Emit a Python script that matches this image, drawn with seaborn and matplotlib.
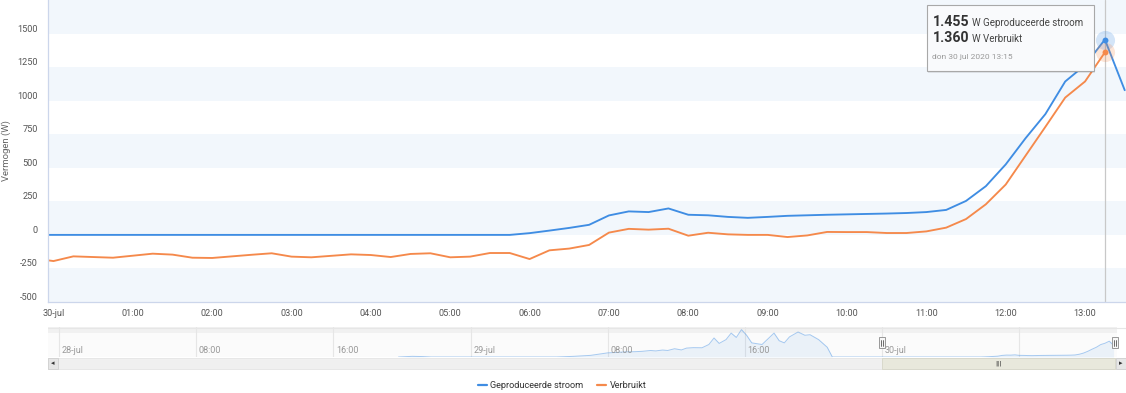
import numpy as np
import pandas as pd
import seaborn as sns
import matplotlib.pyplot as plt
from matplotlib.lines import Line2D
from matplotlib.patches import Rectangle

W, H = 1126, 393

# kwartierwaarden van 29-jul 23:45 t/m 30-jul 13:30
tijden = pd.date_range('2020-07-29 23:45', '2020-07-30 13:30', freq='15min')
geproduceerd = [0,
                0, 0, 0, 0, 0, 0, 0, 0, 0, 0, 0, 0,
                0, 0, 0, 0, 0, 0, 0, 0, 0, 0, 0, 0,
                13, 32, 52, 75, 145, 175, 170, 197, 150, 146, 134, 127,
                134, 142, 146, 150, 153, 156, 159, 163, 170, 186, 253, 363,
                525, 720, 900, 1143, 1265, 1455, 1078]
verbruikt = [-175,
             -195, -160, -165, -170, -155, -140, -147, -170, -172, -160, -148, -137,
             -162, -167, -156, -145, -150, -165, -142, -137, -167, -162, -135, -135,
             -180, -115, -102, -75, 17, 45, 39, 46, -6, 16, 4, 0,
             0, -16, -4, 22, 21, 21, 14, 14, 26, 54, 118, 228,
             375, 590, 805, 1023, 1143, 1360, np.nan]

x_labels = ['30-jul', '01:00', '02:00', '03:00', '04:00', '05:00', '06:00',
            '07:00', '08:00', '09:00', '10:00', '11:00', '12:00', '13:00']
y_ticks = [-500, -250, 0, 250, 500, 750, 1000, 1250, 1500]

# navigator: uren vanaf 28-jul 00:00 (28-jul avond en 29-jul)
nav_uren = [19.8, 20.6, 21.2, 21.7,
            29.0, 30.0, 31.0, 32.0, 32.5, 33.0, 33.6, 34.0, 34.5, 34.8, 35.2, 35.5,
            35.9, 36.3, 36.6, 37.0, 37.5, 37.9, 38.2, 38.5, 38.9, 39.2, 39.5, 39.8,
            40.1, 40.4, 41.0, 41.3, 41.7, 42.0, 42.3, 42.6, 43.1, 43.5, 43.8, 44.3,
            44.8, 45.1]
nav_watt = [0, 60, 40, 0,
            0, 60, 150, 380, 420, 470, 490, 520, 600, 560, 640, 600,
            760, 650, 820, 860, 850, 1150, 1750, 1250, 1600, 2200, 1800, 2520,
            2000, 1300, 1150, 1600, 2200, 1500, 1300, 1850, 2300, 2000, 2050, 1600,
            900, 0]
nav_labels = ['28-jul', '08:00', '16:00', '29-jul', '08:00', '16:00', '30-jul']

blauw = '#3f8de3'
oranje = '#f5894b'

uren = (tijden - pd.Timestamp('2020-07-30')) / pd.Timedelta(hours=1)
i_hover = list(tijden).index(pd.Timestamp('2020-07-30 13:15'))

sns.set_style('white')
plt.rcParams['font.family'] = ['Roboto', 'DejaVu Sans']

fig = plt.figure(figsize=(W / 100, H / 100), dpi=100)


def fx(p):
    return p / W


def fy(p):
    return 1 - p / H


# hoofdgrafiek
ax = fig.add_axes([fx(48), fy(302), (1126 - 48) / W, 302 / H])
for v in range(-500, 1750, 500):
    ax.axhspan(v, v + 250, color='#f2f7fc', lw=0, zorder=0)

df = pd.DataFrame({'uur': uren, 'Geproduceerde stroom': geproduceerd, 'Verbruikt': verbruikt})
df = df.melt(id_vars='uur', var_name='serie', value_name='W').dropna()
sns.lineplot(data=df, x='uur', y='W', hue='serie', ax=ax, legend=False,
             palette={'Geproduceerde stroom': blauw, 'Verbruikt': oranje}, lw=1.35)

t_hover = uren[i_hover]
ax.axvline(t_hover, color='#c8c8c8', lw=0.9, zorder=1.5)
for val, c in [(geproduceerd[i_hover], blauw), (verbruikt[i_hover], oranje)]:
    ax.scatter([t_hover], [val], s=190, color=c, alpha=0.22, lw=0, zorder=3)
    ax.scatter([t_hover], [val], s=18, color=c, lw=0, zorder=4)

ax.set_xlim(-0.069, 13.516)
ax.set_ylim(-500, 1750)
ax.set_xticks(range(len(x_labels)))
ax.set_xticklabels(x_labels)
ax.set_yticks(y_ticks)
ax.set_yticklabels([str(v) for v in y_ticks])
plt.setp(ax.get_yticklabels(), va='bottom')
ax.tick_params(axis='x', length=3.8, width=0.8, color='#ccd6eb', pad=1.5,
               labelsize=6.6, labelcolor='#555555')
ax.tick_params(axis='y', length=0, pad=7.5, labelsize=6.6, labelcolor='#555555')
ax.set_xlabel('')
ax.set_ylabel('Vermogen (W)', fontsize=6.8, color='#666666', va='center')
ax.yaxis.set_label_coords(-0.039, 0.5)
for s in ['top', 'right']:
    ax.spines[s].set_visible(False)
for s in ['left', 'bottom']:
    ax.spines[s].set_color('#ccd6eb')
    ax.spines[s].set_linewidth(0.9)

# tooltip
fig.add_artist(Rectangle((fx(928), fy(73)), 167 / W, 66 / H, transform=fig.transFigure,
                         facecolor='#000000', alpha=0.08, lw=0))
fig.add_artist(Rectangle((fx(926.5), fy(71)), 167 / W, 66 / H, transform=fig.transFigure,
                         facecolor='#f9fafc', edgecolor='#a8a8a8', lw=0.8))
fmt = lambda v: f'{int(v):,}'.replace(',', '.')
renderer = fig.canvas.get_renderer()
for val, naam, base in [(geproduceerd[i_hover], 'W Geproduceerde stroom', 26),
                        (verbruikt[i_hover], 'W Verbruikt', 42.5)]:
    tb = fig.text(fx(932.5), fy(base), fmt(val), fontsize=10.2, fontweight='bold',
                  color='#333333', va='baseline')
    x1 = tb.get_window_extent(renderer).x1
    fig.text((x1 + 3) / W, fy(base), naam, fontsize=7.0, color='#444444', va='baseline')
fig.text(fx(932.5), fy(58.5), 'don 30 jul 2020 13:15', fontsize=6.0, color='#999999',
         va='baseline')

# navigator
ax_nav = fig.add_axes([fx(48), fy(357), (1117 - 48) / W, 30 / H])
ax_nav.set_facecolor('#fbfbfb')
ax_nav.axhspan(2760 * 0.8, 2760, color='#f1f1f1', lw=0, zorder=0)
nav_x = np.concatenate([nav_uren, np.asarray(uren) + 48])
nav_y = np.concatenate([nav_watt, geproduceerd])
ax_nav.fill_between(nav_x, nav_y, 0, color=blauw, alpha=0.09, lw=0, zorder=2)
sns.lineplot(x=nav_x, y=nav_y, ax=ax_nav, color=blauw, lw=0.7, alpha=0.45, zorder=3)
for k in range(8):
    ax_nav.axvline(k * 8, color='#e6e6e6', lw=0.8, zorder=1)
for k, lab in enumerate(nav_labels):
    ax_nav.text(k * 8 + 0.15, 150, lab, fontsize=6.5, color='#999999', va='bottom')
ax_nav.set_xlim(-0.64, 61.7)
ax_nav.set_ylim(0, 2760)
ax_nav.set_xticks([])
ax_nav.set_yticks([])
ax_nav.set_xlabel('')
ax_nav.set_ylabel('')
for s in ax_nav.spines.values():
    s.set_visible(False)

# schuifbalk en handvatten
fig.add_artist(Rectangle((fx(48), fy(369)), 1078 / W, 11.5 / H, transform=fig.transFigure,
                         facecolor='#f0f0f0', edgecolor='#e4e4e4', lw=0.6))
fig.add_artist(Rectangle((fx(882), fy(369)), 233 / W, 11.5 / H, transform=fig.transFigure,
                         facecolor='#e8e8dc', edgecolor='#d6d6c8', lw=0.6))
for bx in [48, 1116]:
    fig.add_artist(Rectangle((fx(bx), fy(369)), 10 / W, 11.5 / H, transform=fig.transFigure,
                             facecolor='#e6e6e6', edgecolor='#d0d0d0', lw=0.6))
fig.text(fx(53), fy(363.5), '◂', fontsize=5, color='#333333', ha='center', va='center',
         family='DejaVu Sans')
fig.text(fx(1121), fy(363.5), '▸', fontsize=5, color='#333333', ha='center', va='center',
         family='DejaVu Sans')
fig.text(fx(998.5), fy(363.5), '|||', fontsize=4.5, color='#333333', ha='center', va='center',
         family='DejaVu Sans')
fig.add_artist(Line2D([fx(48), fx(1126)], [fy(327.5), fy(327.5)], transform=fig.transFigure,
                      color='#e6e6e6', lw=0.8))
for hx in [882, 1115]:
    fig.add_artist(Rectangle((fx(hx - 3), fy(348)), 6 / W, 11 / H, transform=fig.transFigure,
                             facecolor='#f7f7f7', edgecolor='#999999', lw=0.7, zorder=5))
    for dx in [-1, 1]:
        fig.add_artist(Line2D([fx(hx + dx), fx(hx + dx)], [fy(345.5), fy(339.5)],
                              transform=fig.transFigure, color='#333333', lw=0.5, zorder=6))

# legenda
handles = [Line2D([], [], color=blauw, lw=1.6), Line2D([], [], color=oranje, lw=1.6)]
leg = fig.legend(handles, ['Geproduceerde stroom', 'Verbruikt'], loc='center',
                 bbox_to_anchor=(fx(562), fy(385.5)), ncol=2, frameon=False, fontsize=6.6,
                 handlelength=1.0, handletextpad=0.35, columnspacing=1.5)
for t in leg.get_texts():
    t.set_color('#333333')

fig.savefig('out.png', dpi=100)
